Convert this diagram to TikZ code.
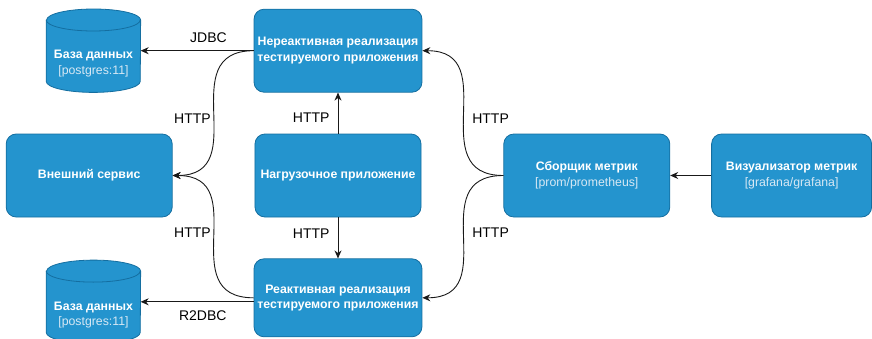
\documentclass[tikz,border=0pt]{standalone}
\usepackage{fontspec}
\setmainfont{Liberation Sans}
\usetikzlibrary{arrows.meta,positioning}
\definecolor{boxfill}{RGB}{36,148,206}
\definecolor{boxline}{RGB}{20,110,160}
\definecolor{subtext}{RGB}{215,232,244}
\definecolor{linecol}{RGB}{25,25,25}
\newcommand\subtxt[1]{{\mdseries\color{subtext}#1}}
\tikzset{
    svcbox/.style={draw=boxline, fill=boxfill, rounded corners=10pt, align=center,
        text=white, font=\bfseries\fontsize{12.3}{15.5}\selectfont,
        minimum height=83pt, minimum width=166pt, line width=0.8pt},
    dbshape/.style={minimum width=94pt, minimum height=83pt, inner sep=0pt,
        append after command={\pgfextra{
            \draw[draw=boxline, fill=boxfill, line width=0.8pt]
                ([yshift=-11pt]\tikzlastnode.north west) -- ([yshift=11pt]\tikzlastnode.south west)
                arc[start angle=180, end angle=360, x radius=47pt, y radius=11pt]
                -- ([yshift=-11pt]\tikzlastnode.north east)
                arc[start angle=0, end angle=180, x radius=47pt, y radius=11pt] -- cycle;
            \draw[draw=boxline, line width=0.8pt]
                ([yshift=-11pt]\tikzlastnode.north west)
                arc[start angle=180, end angle=360, x radius=47pt, y radius=11pt];
        }}},
    dbtext/.style={align=center, text=white, font=\bfseries\fontsize{12.3}{15.5}\selectfont},
    flowarrow/.style={-{Stealth[length=8pt,width=7pt]}, draw=linecol, line width=0.9pt},
    flowlabel/.style={font=\fontsize{14}{16}\selectfont, inner sep=2pt}
}

\begin{document}
\begin{tikzpicture}[x=1pt, y=1pt, node distance=41pt]
\useasboundingbox (-338,-162.5) rectangle (534,175.5);
\node[svcbox] (load) {Нагрузочное приложение};
\node[svcbox, above=of load] (nonreact) {Нереактивная реализация\\тестируемого приложения};
\node[svcbox, below=of load, minimum height=78pt] (react) {Реактивная реализация\\тестируемого приложения};
\node[svcbox, left=82pt of load] (ext) {Внешний сервис};
\node[svcbox, right=82pt of load] (collector) {Сборщик метрик\\\subtxt{[prom/prometheus]}};
\node[svcbox, right=of collector, minimum width=160pt] (viz) {Визуализатор метрик\\\subtxt{[grafana/grafana]}};
\node[dbshape, left=113pt of nonreact,
    label={[dbtext, yshift=-13pt]center:База данных\\\subtxt{[postgres:11]}}] (dbTop) {};
\node[dbshape, left=113pt of react, yshift=-4pt,
    label={[dbtext, yshift=-13pt]center:База данных\\\subtxt{[postgres:11]}}] (dbBot) {};

\draw[flowarrow] (nonreact.west) -- node[flowlabel, above=6pt, pos=0.4] {JDBC} (dbTop.east);
\draw[flowarrow] (react.west |- dbBot.east) -- node[flowlabel, below=6pt, pos=0.45] {R2DBC} (dbBot.east);
\draw[flowarrow] (load) -- node[flowlabel, left=6pt, pos=0.4] {HTTP} (nonreact);
\draw[flowarrow] (load) -- node[flowlabel, left=6pt, pos=0.4] {HTTP} (react);
\draw[flowarrow] (nonreact.west) .. controls +(-82,0) and +(82,0) .. node[flowlabel, left, pos=0.53] {HTTP} (ext.east);
\draw[flowarrow] (react.west) .. controls +(-82,0) and +(82,0) .. node[flowlabel, left, pos=0.52] {HTTP} (ext.east);
\draw[flowarrow] (collector.west) .. controls +(-82,0) and +(82,0) .. node[flowlabel, right=7pt, pos=0.47] {HTTP} (nonreact.east);
\draw[flowarrow] (collector.west) .. controls +(-82,0) and +(82,0) .. node[flowlabel, right=7pt, pos=0.48] {HTTP} (react.east);
\draw[flowarrow] (viz) -- (collector);
\end{tikzpicture}
\end{document}
